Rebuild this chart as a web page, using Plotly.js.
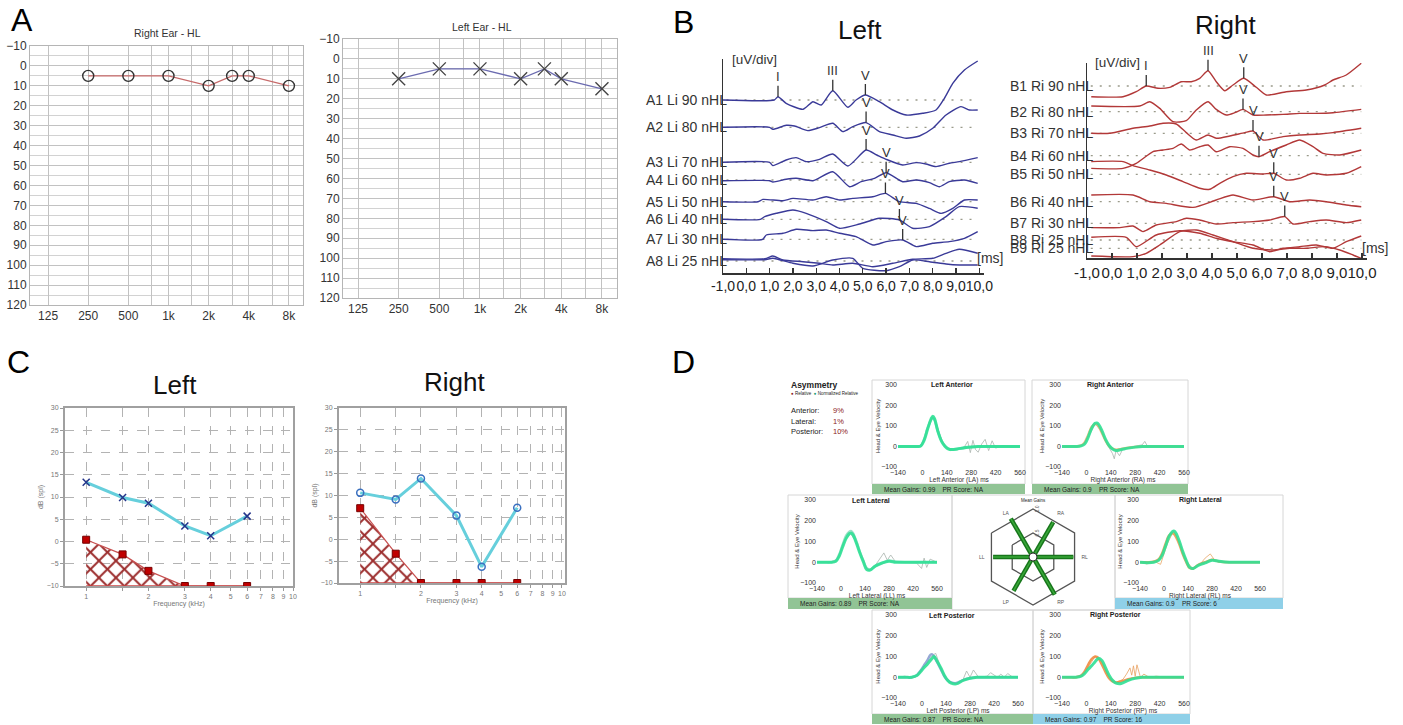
<!DOCTYPE html>
<html><head><meta charset="utf-8">
<script src="https://cdn.plot.ly/plotly-3.0.1.min.js"></script>
<style>body{margin:0;background:#fff}#chart{width:1403px;height:725px}</style>
</head><body><div id="chart"></div>
<script>
// ---------------- DATA ----------------
// Panel A: pure-tone audiograms (dB HL)
const audFreq = [250, 500, 1000, 2000, 3000, 4000, 8000];
const rightEarHL = [5, 5, 5, 10, 5, 5, 10];
const leftEarHL = [10, 5, 5, 10, 5, 10, 15];
const audTickVals = [125, 250, 500, 750, 1000, 1500, 2000, 3000, 4000, 6000, 8000];
const audTickText = ['125', '250', '500', '', '1k', '', '2k', '', '4k', '', '8k'];

// Panel B: ABR waveforms, [time ms, deflection] pairs
const abrTickVals = [-1, 0, 1, 2, 3, 4, 5, 6, 7, 8, 9, 10];
const abrTickText = ['-1,0', '0,0', '1,0', '2,0', '3,0', '4,0', '5,0', '6,0', '7,0', '8,0', '9,0', '10,0'];
const leftLabels = ['A1 Li 90 nHL', 'A2 Li 80 nHL', 'A3 Li 70 nHL', 'A4 Li 60 nHL', 'A5 Li 50 nHL', 'A6 Li 40 nHL', 'A7 Li 30 nHL', 'A8 Li 25 nHL'];
const leftOffsets = [173, 145.7, 110.7, 93, 71.3, 53.7, 33.7, 12];
const leftA1 = [[-1,0],[1.2,0],[1.36,3.3],[1.71,-3.3],[2.43,-9.3],[2.86,-1.7],[3.21,-5],[3.71,9.3],[4.36,-7.3],[4.71,0],[5.11,5],[5.71,-1.7],[6.29,-10],[6.86,-15],[7.57,-13.3],[8.14,-10],[8.5,1.7],[8.86,16.7],[9.36,30],[9.93,39]];
const leftA2 = [[-1,0],[1.0,0],[1.14,-2],[1.71,2],[2.07,1.3],[2.64,-3.3],[3.14,-0.3],[3.71,4],[4.14,-4.3],[4.57,0.7],[5.14,4.7],[5.71,-4.3],[6.29,-7.7],[6.86,-11],[7.43,-8.7],[8.0,-1],[8.57,12.3],[9.21,20.7],[9.57,17.3],[9.93,17.3]];
const leftA3 = [[-1,0],[1.0,0],[1.14,-3.3],[1.71,2.3],[2.14,4.7],[2.57,0.7],[3.14,3],[3.71,8.3],[4.36,-3.7],[5.14,12.3],[5.6,7.3],[6.0,3],[6.71,-2.7],[7.29,-0.3],[7.71,-1.7],[8.14,-4.3],[8.71,-1],[9.14,0.7],[9.93,4.7]];
const leftA4 = [[-1,-0.7],[1.0,-0.7],[1.14,-2],[1.71,0.7],[2.14,1.7],[2.86,-0.7],[3.71,8.3],[4.43,-6.7],[4.93,-1.7],[5.5,1.7],[6.0,7.3],[6.71,-1.7],[7.29,0],[7.86,-2.7],[8.29,-6.7],[8.71,-1.7],[9.36,0],[9.93,-3.3]];
const leftA5 = [[-1,0],[0.5,0],[0.71,2.3],[1.57,1],[2.0,3.3],[2.86,1.7],[3.43,5],[4.0,1.7],[4.57,3.3],[5.43,5],[5.97,8.3],[6.57,0],[7.29,-1.7],[7.86,-6.7],[8.36,-11.7],[8.86,-6.7],[9.36,1.7],[9.93,1.7]];
const leftA6 = [[-1,0],[0.6,0],[0.79,2.7],[1.29,6],[2.0,9.3],[2.57,6],[3.43,-2.3],[4.0,-9],[4.86,-4.7],[5.71,1],[6.57,-0.7],[7.14,-9],[7.86,-7.3],[8.57,2.7],[9.14,12.7],[9.93,11]];
const leftA7 = [[-1,0],[0.7,0],[0.86,4.3],[1.57,6],[2.14,10],[2.86,8.7],[3.43,9.3],[4.0,6],[4.71,2.7],[5.43,-5.7],[6.0,-2.3],[6.71,-0.7],[7.29,-7.3],[8.0,-4],[8.71,-2.3],[9.36,1],[9.93,7.7]];
const leftA8a = [[-1,2.3],[0.8,2.3],[1.14,5],[1.57,1],[2.43,-0.7],[3.14,-2.3],[3.71,-4],[4.57,-2.3],[5.43,-5.7],[6.29,-2.3],[7.14,1.7],[8.0,2.7],[8.57,7.7],[9.14,11.7],[9.93,7.7]];
const leftA8b = [[-1,1.3],[0.8,1.3],[1.14,2.7],[2.0,-2.3],[2.86,-5],[3.71,1],[4.57,2.7],[5.0,-7.3],[6.0,-9.7],[6.57,-5.7],[7.14,1],[7.86,-0.7],[8.57,-3],[9.14,-4],[9.93,-4]];
const leftTraces = [leftA1, leftA2, leftA3, leftA4, leftA5, leftA6, leftA7, leftA8a, leftA8b];
const leftTraceRow = [0, 1, 2, 3, 4, 5, 6, 7, 7];
const leftPeakRow = [0, 0, 0, 1, 2, 3, 4, 5, 6];
const leftPeakT = [1.36, 3.71, 5.11, 5.14, 5.14, 6.0, 5.97, 6.57, 6.71];
const leftPeakV = [3.3, 9.3, 5, 4.7, 12.3, 7.3, 8.3, -0.7, -0.7];
const peakText = ['I', 'III', 'V', 'V', 'V', 'V', 'V', 'V', 'V'];

const rightLabels = ['B1 Ri 90 nHL', 'B2 Ri 80 nHL', 'B3 Ri 70 nHL', 'B4 Ri 60 nHL', 'B5 Ri 50 nHL', 'B6 Ri 40 nHL', 'B7 Ri 30 nHL', 'B8 Ri 25 nHL', 'B9 Ri 25 nHL'];
const rightOffsets = [172, 146.3, 124.7, 102.3, 83.7, 56.3, 34.7, 18, 9.7];
const rightB1 = [[-0.83,-10.7],[0.44,-10.7],[0.97,-5.7],[1.37,0],[1.84,-2.3],[2.31,-1.3],[2.77,4.3],[3.17,4.3],[3.51,7.7],[3.84,15.3],[4.17,4.3],[4.51,-4.7],[4.84,1],[5.27,7.7],[5.77,-1.3],[6.17,-9],[6.97,-5.7],[7.77,-4],[8.51,1],[8.84,6],[9.37,11],[9.97,22.7]];
const rightB2 = [[-0.83,5.7],[1.11,5.7],[1.51,10],[1.91,3.3],[2.44,-10],[2.97,-9],[3.37,1.7],[3.84,10],[4.17,2.3],[4.57,-3.3],[4.91,-1],[5.24,2.3],[5.64,-3.3],[6.17,-3.3],[6.84,-2.7],[7.51,-1.7],[8.17,-1.7],[8.84,-1],[9.97,2.3]];
const rightB3 = [[-0.83,0],[-0.09,0],[0.84,5],[1.51,7.3],[2.04,10],[2.57,9.3],[2.97,0.7],[3.37,-6.7],[3.84,-1.7],[4.17,-5],[4.71,-2.7],[5.31,0.7],[5.64,2.3],[6.04,-6.7],[6.84,-3.3],[7.51,-1.7],[8.31,-0.7],[8.84,0.7],[9.97,5]];
const rightB4 = [[-0.83,-12.7],[0.44,-12.7],[0.97,-7.7],[1.64,4],[2.04,5.7],[2.44,7.3],[2.77,11.7],[3.11,5.7],[3.51,9],[3.84,10.7],[4.17,4],[4.71,9],[5.24,7.3],[5.64,0.7],[5.88,-1],[6.31,4],[6.97,10.7],[7.51,15.7],[8.04,9],[8.44,2.3],[9.11,0.7],[9.97,5.7]];
const rightB5 = [[-0.83,12.7],[0.44,12.7],[0.84,8.7],[1.51,4.3],[2.17,-0.7],[2.84,-7.3],[3.51,-14],[3.91,-15],[4.31,-9],[4.84,-2.3],[5.37,1],[6.04,0.3],[6.47,1],[6.97,-5.7],[7.51,-4],[8.04,1],[8.57,-0.7],[9.37,1],[9.97,7.7]];
const rightB6 = [[-0.83,6.7],[0.84,6.7],[1.51,0],[2.17,-1.7],[3.24,-5.7],[4.17,1.7],[4.84,6.7],[5.64,1.7],[6.47,5],[7.11,0],[7.91,1.7],[8.57,0],[9.37,-3.3],[9.97,-5]];
const rightB7 = [[-0.83,-4.3],[0.31,-4.3],[0.84,-2.7],[1.24,-8.3],[1.77,-1.7],[2.57,1.7],[2.97,5],[3.51,3.3],[4.17,-0.7],[4.84,0.7],[5.64,1.7],[6.31,3.3],[6.91,6.7],[7.24,-0.7],[7.91,1.7],[8.57,3.3],[9.37,0.7],[9.97,3.3]];
const rightB8 = [[-0.83,2.7],[0.57,2.7],[0.97,-6.7],[1.77,5],[2.71,9.3],[3.51,6.7],[4.17,1.7],[4.84,-1.7],[5.64,-5],[6.31,-11.7],[6.84,-8.3],[7.51,-6.7],[8.17,-5],[8.84,-8.3],[9.37,-1.7],[9.97,4]];
const rightB9 = [[-0.83,-7.7],[0.84,-8.3],[1.37,-5],[1.91,3.3],[2.71,16.7],[3.37,18.3],[4.04,13.3],[4.84,6.7],[5.64,0],[6.44,-1.7],[7.11,0],[7.77,0],[8.51,1.7],[9.11,-1.7],[9.64,-6.7],[9.97,-10]];
const rightTraces = [rightB1, rightB2, rightB3, rightB4, rightB5, rightB6, rightB7, rightB8, rightB9];
const rightPeakRow = [0, 0, 0, 1, 2, 3, 4, 5, 6];
const rightPeakT = [1.37, 3.84, 5.27, 5.24, 5.64, 5.88, 6.47, 6.47, 6.91];
const rightPeakV = [0, 15.3, 7.7, 2.3, 2.3, -1, 1, 5, 6.7];

// Panel C: DPOAE (dB SPL)
const dpFreq = [1, 1.5, 2, 3, 4, 6];
const leftDP = [13.3, 9.9, 8.6, 3.5, 1.3, 5.7];
const leftNoise = [0.4, -2.9, -6.6, -10, -10, -10];
const rightDP = [10.6, 9.1, 13.9, 5.4, -6.3, 7.2];
const rightNoise = [7.1, -3.3, -10, -10, -10, -10];
const dpFloor = [-10, -10, -10, -10, -10, -10];
const dpTickVals = [1, 1.5, 2, 3, 4, 5, 6, 7, 8, 9, 10];
const dpTickText = ['1', '', '2', '3', '4', '5', '6', '7', '8', '9', '10'];

// Panel D: vHIT (head & eye velocity, deg/s) vs time (ms)
const vhitT = [-140,-100,-60,-30,-10,10,30,50,60,70,90,110,130,150,170,200,240,280,320,380,440,500,560];
const laHead = [0,0,0,0,2,30,85,135,148,135,70,25,0,-13,-15,-12,-6,-2,0,0,0,0,0];
const laEye  = [0,0,0,0,3,35,90,130,140,128,72,28,3,-10,-14,-12,-7,-3,0,0,0,0,0];
const raHead = [0,0,0,3,12,45,88,113,115,108,75,35,5,-12,-20,-15,-8,-3,0,0,0,0,0];
const raEye  = [0,0,0,5,20,55,95,110,108,98,65,28,2,-10,-16,-12,-6,-2,0,0,0,0,0];
const llHead = [0,0,0,5,30,75,115,138,140,132,92,45,3,-35,-38,-18,-3,5,0,0,0,0,0];
const llEye  = [0,0,0,8,38,85,128,148,150,140,100,50,8,-28,-35,-20,-5,8,2,0,0,0,0];
const rlHead = [0,-2,0,10,35,80,125,148,150,140,100,50,8,-25,-30,-15,-3,10,5,0,0,0,0];
const rlEye  = [0,0,2,15,45,90,130,140,135,122,85,38,0,-28,-30,-12,0,12,4,0,0,0,0];
const lpHead = [0,0,0,8,25,45,62,82,92,100,75,45,10,-15,-28,-32,-15,-5,0,0,0,0,0];
const lpEye  = [0,0,0,10,30,55,80,108,110,100,70,38,5,-15,-25,-28,-14,-5,0,0,0,0,0];
const rpHead = [0,0,0,5,18,38,55,75,85,92,80,45,10,-15,-28,-30,-15,-5,0,0,0,0,0];
const rpEye  = [0,0,0,8,28,60,88,100,98,90,60,25,-5,-20,-25,-20,-10,-3,0,0,0,0,0];
const laNoiseT = [-140,-80,-40,0,40,60,80,120,160,200,240,260,275,290,305,320,340,360,380,400,420,460,520,560];
const laNoise  = [0,3,-4,10,110,145,110,10,-20,-12,-3,25,-30,30,-15,-28,12,35,-20,28,-8,4,-3,0];
const raNoiseT = [-140,-60,-20,20,50,80,120,150,160,170,190,210,240,280,320,335,350,400,460,520,560];
const raNoise  = [0,0,8,60,112,80,10,-35,-60,-20,-45,-10,-5,0,8,25,2,0,3,0,0];
const llNoiseT = [-140,-60,-20,20,55,90,130,160,200,230,250,270,290,320,380,440,470,485,500,520,560];
const llNoise  = [0,2,15,100,140,95,5,-40,-15,25,45,10,35,0,0,-3,-30,20,-25,15,0];
const rlNoiseT = [-140,-100,-60,-20,20,55,90,130,170,210,240,270,300,340,400,480,560];
const rlNoise  = [0,-8,5,-10,90,150,95,8,-35,-10,20,40,5,0,0,0,0];
const lpNoiseT = [-140,-100,-60,-20,20,60,80,110,150,200,240,260,280,300,330,380,400,440,460,480,500,530,560];
const lpNoise  = [0,5,-3,15,60,105,115,45,-20,-30,-10,30,0,35,0,5,22,0,15,0,18,0,0];
const rpNoiseT = [-140,-60,-20,20,50,90,130,170,210,230,250,260,270,280,290,310,330,360,400,460,560];
const rpNoise  = [0,0,10,65,100,75,5,-25,-10,15,45,10,55,5,60,0,15,0,5,0,0];
const vhitXTicks = [-140, 0, 140, 280, 420, 560];
const vhitYTicks = [-100, 0, 100, 200, 300];
const vhitDirs = ['RL', 'RA', 'LA', 'LL', 'LP', 'RP'];
const vhitDirAngle = [0, 60, 120, 180, 240, 300];
const vhitGains = [0.9, 0.9, 0.99, 0.89, 0.87, 0.97];
const hexVertices = ['v1', 'v2', 'v3', 'v4', 'v5', 'v6'];
const asymNames = ['Anterior:', 'Lateral:', 'Posterior:'];
const asymValues = ['9%', '1%', '10%'];

// ---------------- HELPERS ----------------
const W = 1403, H = 725;
const px = (a, b) => [a / W, b / W];
const py = (top, bottom) => [1 - bottom / H, 1 - top / H];
const traces = [];
const ann = [];
const shapes = [];
function T(x, y, text, size, o) {
  const base = {xref: 'paper', yref: 'paper', x: x / W, y: 1 - y / H, text: text, showarrow: false,
    font: {size: size, color: '#222', family: 'Arial, Liberation Sans, sans-serif'}, xanchor: 'center', yanchor: 'middle'};
  if (o) { Object.keys(o).forEach(k => { if (k === 'font') Object.assign(base.font, o.font); else base[k] = o[k]; }); }
  ann.push(base);
}

// ---------------- PANEL A ----------------
traces.push({x: audFreq, y: rightEarHL, xaxis: 'x', yaxis: 'y', mode: 'lines+markers', cliponaxis: false,
  line: {color: '#c76a6a', width: 1.3}, marker: {symbol: 'circle-open', size: 11, color: '#333', line: {width: 1.4}}});
traces.push({x: audFreq, y: leftEarHL, xaxis: 'x2', yaxis: 'y2', mode: 'lines+markers', cliponaxis: false,
  line: {color: '#6b6bb0', width: 1.3}, marker: {symbol: 'x-thin-open', size: 13, color: '#444', line: {width: 1.4}}});
function audX(dom, range, anchor) {
  return {domain: dom, type: 'log', range: range, anchor: anchor, tickvals: audTickVals, ticktext: audTickText,
    showgrid: true, gridcolor: '#c2c2c2', gridwidth: 1, showline: true, mirror: true, linecolor: '#b5b5b5',
    zeroline: false, ticks: '', tickangle: 0, tickfont: {size: 12, color: '#333'}};
}
function audY(dom, anchor) {
  return {domain: dom, range: [120, -10], dtick: 10, tick0: 0, anchor: anchor, showgrid: true, gridcolor: '#c2c2c2',
    minor: {dtick: 5, showgrid: true, gridcolor: '#d2d2d2', ticks: ''}, zeroline: false, showline: true, mirror: true,
    linecolor: '#b5b5b5', ticks: '', tickfont: {size: 12, color: '#333'}};
}

// ---------------- PANEL B ----------------
function abrPanel(list, rows, offsets, xa, ya, color, xEnd) {
  offsets.forEach(o => traces.push({x: [-0.85, xEnd], y: [o, o], xaxis: xa, yaxis: ya, mode: 'lines', hoverinfo: 'skip',
    line: {color: '#9a9a8a', width: 1.3, dash: '2px,7px'}}));
  list.forEach((tr, i) => {
    const o = offsets[rows ? rows[i] : i];
    traces.push({x: tr.map(p => p[0]), y: tr.map(p => p[1] + o), xaxis: xa, yaxis: ya, mode: 'lines',
      line: {color: color, width: 1.4, shape: 'spline', smoothing: 0.6}, cliponaxis: false});
  });
}
abrPanel(leftTraces, leftTraceRow, leftOffsets, 'x3', 'y3', '#3a3a98', 9.85);
abrPanel(rightTraces, null, rightOffsets, 'x4', 'y4', '#b23838', 9.97);
leftLabels.forEach((lab, i) => ann.push({xref: 'x3', yref: 'y3', x: -0.74, y: leftOffsets[i], text: lab, showarrow: false,
  xanchor: 'right', yanchor: 'middle', font: {size: 14, color: '#333', family: 'Arial'}}));
rightLabels.forEach((lab, i) => ann.push({xref: 'x4', yref: 'y4', x: -0.68, y: rightOffsets[i], text: lab, showarrow: false,
  xanchor: 'right', yanchor: 'middle', font: {size: 14, color: '#333', family: 'Arial'}}));
leftPeakRow.forEach((r, i) => ann.push({xref: 'x3', yref: 'y3', x: leftPeakT[i], y: leftOffsets[r] + leftPeakV[i],
  text: peakText[i], showarrow: true, arrowhead: 0, arrowwidth: 1.3, arrowcolor: '#333', ax: 0, ay: -20,
  font: {size: 13, color: '#333', family: 'Arial'}}));
rightPeakRow.forEach((r, i) => ann.push({xref: 'x4', yref: 'y4', x: rightPeakT[i], y: rightOffsets[r] + rightPeakV[i],
  text: peakText[i], showarrow: true, arrowhead: 0, arrowwidth: 1.3, arrowcolor: '#333', ax: 0, ay: -20,
  font: {size: 13, color: '#333', family: 'Arial'}}));
function abrX(dom, anchor, fs) {
  return {domain: dom, range: [-1, 10.2], anchor: anchor, tickvals: abrTickVals, ticktext: abrTickText, ticks: 'inside',
    ticklen: 5, tickwidth: 1.3, tickcolor: '#333', showline: true, linecolor: '#333', linewidth: 1.5, showgrid: false,
    zeroline: false, tickangle: 0, tickfont: {size: fs, color: '#222', family: 'Arial'}};
}
function abrY(dom, range, anchor) {
  return {domain: dom, range: range, anchor: anchor, showline: true, linecolor: '#333', linewidth: 1.5, showgrid: false,
    zeroline: false, showticklabels: false, ticks: ''};
}

// ---------------- PANEL C ----------------
function dpPanel(xa, ya, noise, dp, sym, symColor) {
  traces.push({x: dpFreq, y: dpFloor, xaxis: xa, yaxis: ya, mode: 'lines', line: {color: '#c44', width: 1.5}, hoverinfo: 'skip'});
  traces.push({x: dpFreq, y: noise, xaxis: xa, yaxis: ya, mode: 'lines', fill: 'tonexty', fillcolor: 'rgba(190,90,90,0.08)',
    fillpattern: {shape: 'x', fgcolor: '#9c2e2e', bgcolor: 'rgba(255,255,255,0)', size: 12, solidity: 0.3},
    line: {color: '#c85050', width: 1.2}});
  traces.push({x: dpFreq, y: noise, xaxis: xa, yaxis: ya, mode: 'markers', cliponaxis: true,
    marker: {symbol: 'square', size: 7, color: '#c00000', line: {color: '#700', width: 1}}});
  traces.push({x: dpFreq, y: dp, xaxis: xa, yaxis: ya, mode: 'lines+markers', line: {color: '#66cfdc', width: 3},
    marker: {symbol: sym, size: 7, color: symColor, line: {width: 1.5, color: symColor}}});
}
dpPanel('x5', 'y5', leftNoise, leftDP, 'x-thin-open', '#24348a');
dpPanel('x6', 'y6', rightNoise, rightDP, 'circle-open', '#3a70c0');
function dpX(dom, range, anchor) {
  return {domain: dom, type: 'log', range: range, anchor: anchor, tickvals: dpTickVals, ticktext: dpTickText,
    showgrid: true, griddash: 'dash', gridcolor: '#b3b3b3', gridwidth: 1, showline: true, mirror: true, linecolor: '#a0a0a0',
    linewidth: 2, ticks: 'outside', ticklen: 3, tickcolor: '#999', zeroline: false, tickangle: 0, tickfont: {size: 7, color: '#777'},
    title: {text: 'Frequency (kHz)', font: {size: 7, color: '#777'}, standoff: 2}};
}
function dpY(dom, anchor) {
  return {domain: dom, range: [-10, 30], dtick: 5, anchor: anchor, showgrid: true, griddash: 'dash', gridcolor: '#b3b3b3',
    showline: true, mirror: true, linecolor: '#a0a0a0', linewidth: 2, ticks: 'outside', ticklen: 3, tickcolor: '#999',
    zeroline: false, tickfont: {size: 7, color: '#777'}, title: {text: 'dB (spl)', font: {size: 7, color: '#777'}, standoff: 2}};
}

// ---------------- PANEL D ----------------
function vhitPanel(n, noiseT, noise, noiseColor, eye, eyeColor, head) {
  const xa = 'x' + n, ya = 'y' + n;
  traces.push({x: noiseT, y: noise, xaxis: xa, yaxis: ya, mode: 'lines', line: {color: noiseColor, width: 1}, opacity: 0.8});
  traces.push({x: vhitT, y: eye, xaxis: xa, yaxis: ya, mode: 'lines', line: {color: eyeColor, width: 2.5, shape: 'spline'}, opacity: 0.9});
  traces.push({x: vhitT, y: head, xaxis: xa, yaxis: ya, mode: 'lines', line: {color: '#2fe095', width: 3, shape: 'spline'}, opacity: 0.9});
}
vhitPanel(7, laNoiseT, laNoise, '#aab4ae', laEye, '#7ad9b8', laHead);
vhitPanel(8, raNoiseT, raNoise, '#aab4ae', raEye, '#f0b070', raHead);
vhitPanel(9, llNoiseT, llNoise, '#aab4ae', llEye, '#8fdcc0', llHead);
vhitPanel(10, rlNoiseT, rlNoise, '#e8a868', rlEye, '#f09a50', rlHead);
vhitPanel(11, lpNoiseT, lpNoise, '#aab4ae', lpEye, '#8aa0d0', lpHead);
vhitPanel(12, rpNoiseT, rpNoise, '#e8a060', rpEye, '#f08a40', rpHead);
function vX(dom, anchor, title) {
  return {domain: dom, anchor: anchor, range: [-140, 560], tickvals: vhitXTicks, showgrid: false, zeroline: false,
    showline: false, ticks: '', tickangle: 0, tickfont: {size: 7, color: '#333'}, title: {text: title, font: {size: 6.5, color: '#333'}, standoff: 0}};
}
function vY(dom, anchor) {
  return {domain: dom, anchor: anchor, range: [-100, 300], tickvals: vhitYTicks, showgrid: false, zeroline: false,
    showline: false, ticks: '', tickfont: {size: 7, color: '#333'}, title: {text: 'Head & Eye Velocity', font: {size: 6, color: '#333'}, standoff: 0}};
}
// hexagon mean gains
traces.push({type: 'scatterpolar', subplot: 'polar', theta: hexVertices, r: [0, 0, 0, 0, 0, 0], mode: 'markers',
  marker: {opacity: 0}, hoverinfo: 'skip'});
vhitDirs.forEach((d, i) => {
  traces.push({type: 'scatterpolar', subplot: 'polar2', theta: [vhitDirAngle[i], vhitDirAngle[i]], r: [0, vhitGains[i]],
    mode: 'lines', line: {color: '#17761b', width: 4.5}});
  traces.push({type: 'scatterpolar', subplot: 'polar2', theta: [vhitDirAngle[i], vhitDirAngle[i]], r: [0, vhitGains[i]],
    mode: 'lines', line: {color: '#3aa83a', width: 1.5}});
});
traces.push({type: 'scatterpolar', subplot: 'polar2', theta: [0], r: [0], mode: 'markers',
  marker: {size: 8, color: '#fff', line: {color: '#333', width: 1}}});

// panel boxes & footers
const boxes = [[872, 380, 1025, 484], [1032, 380, 1188, 484], [788, 495, 952, 598], [952, 495, 1115, 610],
  [1115, 495, 1283, 598], [872, 610, 1033, 714], [1033, 610, 1190, 714]];
boxes.forEach(b => shapes.push({type: 'rect', xref: 'paper', yref: 'paper', x0: b[0] / W, x1: b[2] / W, y0: 1 - b[3] / H, y1: 1 - b[1] / H,
  line: {color: '#d6d6d6', width: 1}, fillcolor: 'rgba(0,0,0,0)', layer: 'below'}));
const footers = [[872, 484, 1025, 494, '#91c495', 'Mean Gains: 0.99', 'NA'], [1032, 484, 1188, 494, '#91c495', 'Mean Gains: 0.9', 'NA'],
  [788, 598, 952, 609, '#91c495', 'Mean Gains: 0.89', 'NA'], [1115, 598, 1283, 609, '#8fd0e8', 'Mean Gains: 0.9', '6'],
  [872, 714, 1033, 724, '#91c495', 'Mean Gains: 0.87', 'NA'], [1033, 714, 1190, 724, '#8fd0e8', 'Mean Gains: 0.97', '16']];
footers.forEach(f => {
  shapes.push({type: 'rect', xref: 'paper', yref: 'paper', x0: f[0] / W, x1: f[2] / W, y0: 1 - f[3] / H, y1: 1 - f[1] / H,
    line: {width: 0}, fillcolor: f[4], layer: 'below'});
  T(f[0] + 10, (f[1] + f[3]) / 2, f[5] + '\u00a0\u00a0\u00a0\u00a0PR Score: ' + f[6], 6.5, {xanchor: 'left'});
});

// ---------------- TEXT ----------------
T(22, 20, 'A', 32, {font: {color: '#000'}});
T(683, 22, 'B', 32, {font: {color: '#000'}});
T(18, 362, 'C', 32, {font: {color: '#000'}});
T(683, 362, 'D', 32, {font: {color: '#000'}});
T(167, 33, 'Right Ear - HL', 10.5, {font: {color: '#333'}});
T(482, 27, 'Left Ear - HL', 10.5, {font: {color: '#333'}});
T(860, 30, 'Left', 26, {font: {color: '#111'}});
T(1225, 25, 'Right', 26, {font: {color: '#111'}});
T(754, 60, '[uV/div]', 13.5, {font: {color: '#333'}});
T(1117, 62, '[uV/div]', 13.5, {font: {color: '#333'}});
T(990, 258, '[ms]', 14, {font: {color: '#333'}});
T(1375, 248, '[ms]', 14, {font: {color: '#333'}});
T(175, 385, 'Left', 26, {font: {color: '#111'}});
T(455, 382, 'Right', 26, {font: {color: '#111'}});
T(789, 385, '<b>Asymmetry</b>', 8.5, {xanchor: 'left'});
T(789, 393, '<span style="color:#8b1a1a">●</span> Relative  <span style="color:#1a9a70">●</span> Normalized Relative', 4.5, {xanchor: 'left'});
asymNames.forEach((nm, i) => {
  T(789, 410 + i * 11, nm, 7.5, {xanchor: 'left'});
  T(831, 410 + i * 11, asymValues[i], 7.5, {xanchor: 'left', font: {color: '#8b2020'}});
});
T(952, 385, '<b>Left Anterior</b>', 7);
T(1110, 385, '<b>Right Anterior</b>', 7);
T(871, 500, '<b>Left Lateral</b>', 7);
T(1200, 500, '<b>Right Lateral</b>', 7);
T(952, 615, '<b>Left Posterior</b>', 7);
T(1115, 615, '<b>Right Posterior</b>', 7);
T(1033, 500, 'Mean Gains', 4.5);

// ---------------- LAYOUT ----------------
const layout = {
  width: W, height: H, margin: {l: 0, r: 0, t: 0, b: 0}, paper_bgcolor: '#fff', plot_bgcolor: 'rgba(0,0,0,0)',
  showlegend: false, font: {family: 'Arial, Liberation Sans, sans-serif', color: '#333'},
  xaxis: audX(px(30, 303), [Math.log10(91.5), Math.log10(10200)], 'y'),
  yaxis: audY(py(46, 305), 'x'),
  xaxis2: audX(px(343, 617), [Math.log10(96.8), Math.log10(10340)], 'y2'),
  yaxis2: audY(py(39, 298), 'x2'),
  xaxis3: abrX(px(723, 984), 'y3', 14),
  yaxis3: abrY(py(59, 273), [0, 214], 'x3'),
  xaxis4: abrX(px(1087, 1367), 'y4', 15),
  yaxis4: abrY(py(63, 258), [0, 195], 'x4'),
  xaxis5: dpX(px(65, 293), [Math.log10(0.79), 1], 'y5'),
  yaxis5: dpY(py(408, 586), 'x5'),
  xaxis6: dpX(px(339, 565), [Math.log10(0.785), 1.015], 'y6'),
  yaxis6: dpY(py(408, 583), 'x6'),
  xaxis7: vX(px(898, 1020), 'y7', 'Left Anterior (LA) ms'), yaxis7: vY(py(385, 467), 'x7'),
  xaxis8: vX(px(1062, 1184), 'y8', 'Right Anterior (RA) ms'), yaxis8: vY(py(385, 467), 'x8'),
  xaxis9: vX(px(817, 937), 'y9', 'Left Lateral (LL) ms'), yaxis9: vY(py(500, 583), 'x9'),
  xaxis10: vX(px(1140, 1260), 'y10', 'Right Lateral (RL) ms'), yaxis10: vY(py(500, 583), 'x10'),
  xaxis11: vX(px(898, 1018), 'y11', 'Left Posterior (LP) ms'), yaxis11: vY(py(615, 698), 'x11'),
  xaxis12: vX(px(1062, 1184), 'y12', 'Right Posterior (RP) ms'), yaxis12: vY(py(615, 698), 'x12'),
  polar: {
    domain: {x: px(985, 1081), y: py(509, 605)}, gridshape: 'linear', bgcolor: 'rgba(0,0,0,0)',
    angularaxis: {type: 'category', categoryarray: hexVertices, rotation: 90, direction: 'clockwise', showgrid: false,
      showticklabels: false, ticks: '', linecolor: '#555', linewidth: 1.3},
    radialaxis: {range: [0, 1], tickvals: [0.5, 1], ticktext: ['0.5', '1.0'], showline: false, ticks: '', angle: 90,
      gridcolor: '#555', gridwidth: 1.3, showticklabels: true, tickfont: {size: 5, color: '#555'}}
  },
  polar2: {
    domain: {x: px(985, 1081), y: py(509, 605)}, bgcolor: 'rgba(0,0,0,0)',
    angularaxis: {rotation: 0, direction: 'counterclockwise', showgrid: false, showline: false, tickvals: vhitDirAngle,
      ticktext: vhitDirs, ticks: '', tickfont: {size: 5, color: '#555'}},
    radialaxis: {range: [0, 1.07], visible: false}
  },
  annotations: ann,
  shapes: shapes
};
Plotly.newPlot('chart', traces, layout, {displayModeBar: false, staticPlot: true});
</script>
</body></html>
